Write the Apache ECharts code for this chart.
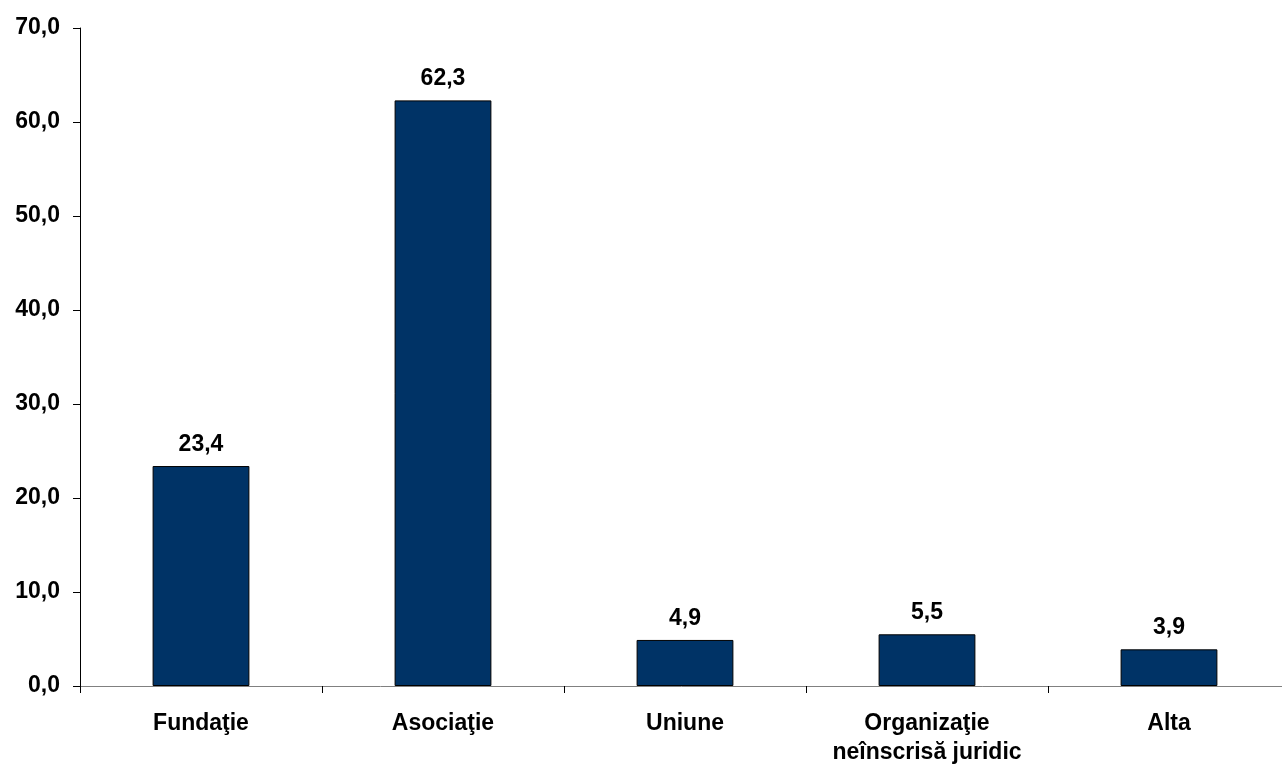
<!DOCTYPE html>
<html>
<head>
<meta charset="utf-8">
<script src="https://cdn.jsdelivr.net/npm/echarts@6/dist/echarts.min.js"></script>
<style>html,body{margin:0;padding:0;background:#fff}#c{width:1282px;height:765px}</style>
</head>
<body>
<div id="c"></div>
<script>
const categories = ['Fundaţie', 'Asociaţie', 'Uniune', 'Organizaţie\nneînscrisă juridic', 'Alta'];
const values = [23.4, 62.3, 4.9, 5.5, 3.9];
const yTicks = [0, 10, 20, 30, 40, 50, 60, 70];

const font = 'Liberation Sans, Arial, sans-serif';
const chart = echarts.init(document.getElementById('c'));
chart.setOption({
  animation: false,
  backgroundColor: '#fff',
  grid: { left: 80, width: 1210, top: 28, bottom: 79, containLabel: false, outerBoundsMode: 'none' },
  xAxis: {
    type: 'category',
    data: categories,
    axisLine: { lineStyle: { color: '#808080', width: 1 } },
    axisTick: { show: true, alignWithLabel: false, length: 7, lineStyle: { color: '#000' } },
    axisLabel: { color: '#000', fontFamily: font, fontWeight: 'bold', fontSize: 23, lineHeight: 29, margin: 23, interval: 0 }
  },
  yAxis: {
    type: 'value',
    min: yTicks[0], max: yTicks[yTicks.length - 1], interval: 10,
    splitLine: { show: false },
    axisLine: { show: true, lineStyle: { color: '#000', width: 1 } },
    axisTick: { show: true, length: 7, lineStyle: { color: '#000' } },
    axisLabel: { color: '#000', fontFamily: font, fontWeight: 'bold', fontSize: 23, margin: 20,
      formatter: v => v.toFixed(1).replace('.', ',') }
  },
  series: [{
    type: 'bar',
    data: values,
    barWidth: '40%',
    itemStyle: { color: '#003366', borderColor: '#000', borderWidth: 1 },
    label: { show: true, position: 'top', distance: 10, color: '#000', fontFamily: font, fontWeight: 'bold', fontSize: 23,
      formatter: p => p.value.toFixed(1).replace('.', ',') }
  }]
});
</script>
</body>
</html>
